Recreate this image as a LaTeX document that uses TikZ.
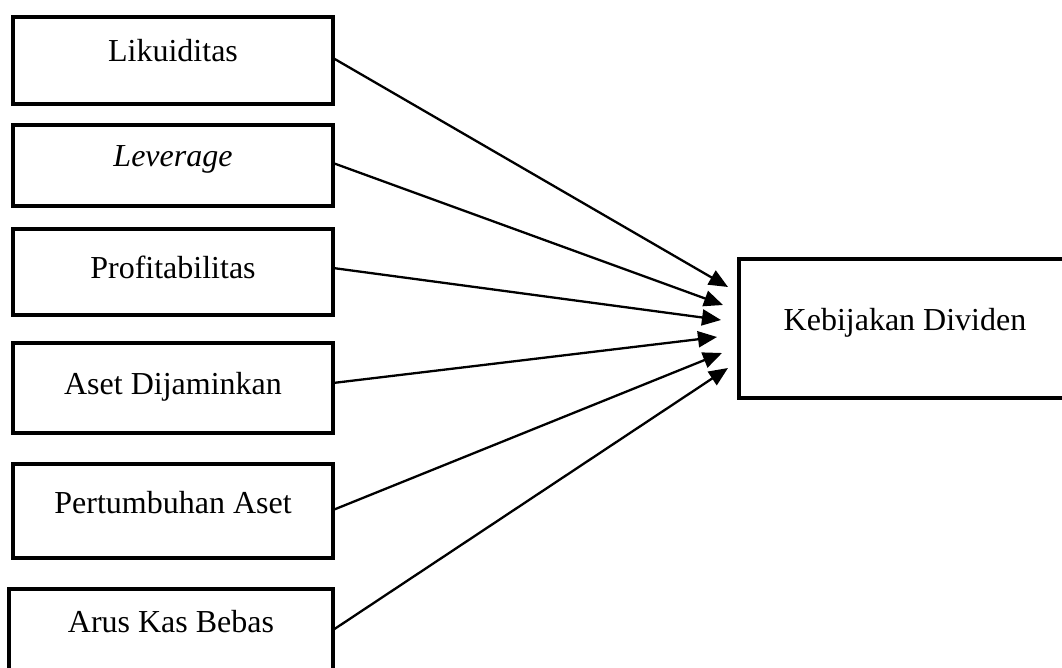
\documentclass[tikz,border=0pt]{standalone}
\usepackage{fontspec}
\setmainfont{Liberation Serif}
\usetikzlibrary{arrows.meta,calc}
\begin{document}
\begin{tikzpicture}[x=1pt,y=-1pt,
  box/.style={draw,line width=4.5pt,rectangle,inner sep=0pt,outer sep=0pt,anchor=north west},
  lbl/.style={font=\fontsize{32}{38}\selectfont,inner sep=0pt,anchor=base},
  link/.style={line width=2.3pt,-{Triangle[length=19pt,width=16pt]}}]
\path[use as bounding box,clip] (0,0) rectangle (1062,668);
\fill[white] (0,0) rectangle (1062,668);
% boxes
\node[box,minimum width=320pt,minimum height=87pt] (b1) at (13,17) {};
\node[box,minimum width=320pt,minimum height=81pt] (b2) at (13,125) {};
\node[box,minimum width=320pt,minimum height=86pt] (b3) at (13,229) {};
\node[box,minimum width=320pt,minimum height=90pt] (b4) at (13,343) {};
\node[box,minimum width=320pt,minimum height=94pt] (b5) at (13,464) {};
\node[box,minimum width=324pt,minimum height=82pt] (b6) at (9,589) {};
\node[box,minimum width=346pt,minimum height=139pt] (k) at (739,259) {};
% labels
\node[lbl] (t1) at (173,62) {Likuiditas};
\node[lbl] (t2) at (173,167) {\itshape Leverage};
\node[lbl] (t3) at (173,279) {Profitabilitas};
\node[lbl] (t4) at (173,394) {Aset Dijaminkan};
\node[lbl] (t5) at (173,513) {Pertumbuhan Aset};
\node[lbl] (t6) at (171,632) {Arus Kas Bebas};
\node[lbl] (tk) at (905,330) {Kebijakan Dividen};
% arrow end points
\coordinate (e1) at ($(k.west)+(-11pt,41.5pt)$);
\coordinate (e2) at ($(k.west)+(-16pt,23.5pt)$);
\coordinate (e3) at ($(k.west)+(-18pt,8.5pt)$);
\coordinate (e4) at ($(k.west)+(-22pt,-8.5pt)$);
\coordinate (e5) at ($(k.west)+(-17pt,-24.5pt)$);
\coordinate (e6) at ($(k.west)+(-11pt,-39.5pt)$);
% connectors
\draw[link] ([yshift=2.5pt]b1.east) -- (e1);
\draw[link] ([yshift=2.5pt]b2.east) -- (e2);
\draw[link] ([yshift=4pt]b3.east) -- (e3);
\draw[link] ([yshift=5pt]b4.east) -- (e4);
\draw[link] ([yshift=1pt]b5.east) -- (e5);
\draw[link] (b6.east) -- (e6);
\end{tikzpicture}
\end{document}
